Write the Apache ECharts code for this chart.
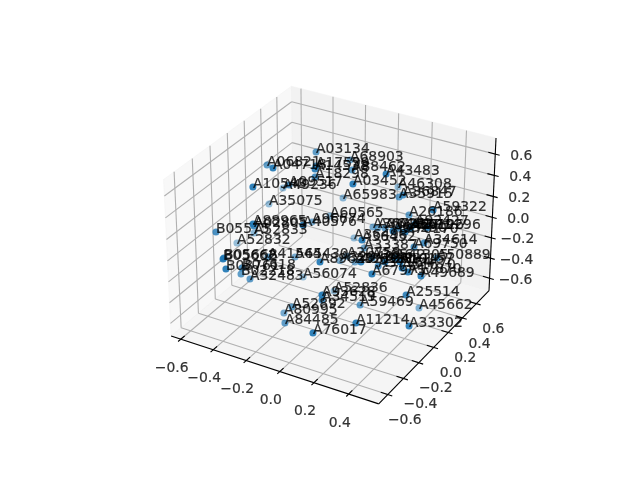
<!DOCTYPE html>
<html>
<head>
<meta charset="UTF-8">
<title>scatter</title>
<script src="https://cdn.jsdelivr.net/npm/echarts@6/dist/echarts.min.js"></script>
<style>
html,body{margin:0;background:#fff}
#main{width:640px;height:480px}
</style>
</head>
<body>
<div id="main"></div>
<script>
const xTicks = [-0.6, -0.4, -0.2, 0, 0.2, 0.4]
const yTicks = [-0.6, -0.4, -0.2, 0, 0.2, 0.4, 0.6]
const zTicks = [-0.6, -0.4, -0.2, 0, 0.2, 0.4, 0.6]
const xLim = [-0.66, 0.57]
const yLim = [-0.714, 0.786]
const zLim = [-0.725, 0.749]

const labels = ['A03134', 'A06821', 'A04718', 'A17599', 'A14538', 'A18298', 'A10543', 'A09517', 'A49236', 'A35075',
    'A88965', 'A02805', 'A52833', 'B05575', 'A52832', 'A40576', 'A96674', 'A60565', 'A65983', 'A03452',
    'A68903', 'A88462', 'A43483', 'A46308', 'A35915', 'A36847', 'A59322', 'A26186', 'A36498', 'A36452',
    'A36721', 'A31427', 'A63290', 'A19296', 'A92427', 'A76170', 'A34614', 'A33387', 'A69750', 'A50889',
    'A49689', 'A67975', 'A17870', 'A10157', 'A89620', 'A32196', 'A36981', 'A36542', 'A28814', 'A61305',
    'A56074', 'A32483', 'B05662', 'B05668', 'B08761', 'B07618', 'B02218', 'A41544', 'A65430', 'A52836',
    'A93628', 'A34519', 'A59469', 'A52892', 'A80995', 'A84485', 'A76017', 'A11214', 'A33302', 'A45662', 'A25514',
    'A36420', 'A38571', 'A60126', 'A32940', 'A20758', 'A37164', 'A51670']
const xValues = [-0.198, -0.399, -0.196, -0.114, -0.048, -0.104, -0.259, -0.208, -0.469, -0.512,
    -0.213, -0.310, -0.508, -0.469, -0.608, -0.030, -0.192, -0.183, -0.147, 0.166,
    -0.101, -0.015, 0.265, 0.060, 0.229, 0.304, 0.513, 0.296, -0.075, 0.274,
    0.090, 0.206, 0.366, 0.451, 0.423, 0.419, 0.457, 0.077, 0.418, 0.533,
    0.543, 0.359, 0.482, 0.435, 0.121, 0.054, 0.266, 0.248, 0.370, 0.408,
    -0.258, -0.329, -0.298, -0.366, -0.273, -0.309, -0.375, -0.277, -0.223, -0.097,
    0.171, 0.082, 0.194, -0.106, -0.200, -0.117, 0.179, 0.351, 0.554, 0.374, 0.473,
    0.120, 0.284, 0.449, -0.036, 0.006, 0.284, 0.447]
const yValues = [0.147, -0.042, -0.369, -0.028, -0.176, -0.061, -0.479, -0.162, 0.283, 0.192,
    -0.575, -0.380, -0.004, -0.513, -0.021, -0.360, 0.079, 0.289, 0.381, -0.169,
    0.370, 0.211, 0.027, 0.658, 0.285, 0.163, 0.075, 0.267, 0.372, -0.288,
    0.259, 0.157, -0.102, 0.149, 0.053, -0.068, 0.099, 0.173, 0.058, 0.099,
    -0.136, -0.347, -0.165, -0.162, -0.472, 0.106, -0.281, -0.101, -0.208, -0.167,
    0.098, -0.404, -0.757, -0.623, -0.775, -0.529, -0.419, -0.288, -0.071, 0.159,
    -0.553, -0.368, -0.130, -0.349, -0.260, -0.414, -0.679, -0.523, -0.304, 0.251, -0.163,
    0.259, 0.157, -0.068, 0.106, 0.106, -0.101, -0.162]
const zValues = [0.678, 0.585, 0.841, 0.689, 0.779, 0.612, 0.711, 0.556, 0.140, 0.022,
    0.458, 0.269, -0.133, 0.227, -0.265, 0.392, 0.064, -0.008, 0.123, 0.732,
    0.511, 0.550, 0.744, 0.147, 0.358, 0.486, 0.496, 0.230, -0.228, 0.348,
    0.028, 0.138, 0.351, 0.255, 0.341, 0.344, 0.150, -0.123, 0.122, 0.045,
    0.040, 0.115, 0.068, 0.137, 0.197, -0.224, 0.137, 0.045, 0.137, 0.165,
    -0.515, -0.225, 0.218, 0.105, 0.149, -0.025, -0.189, -0.068, -0.188, -0.618,
    -0.029, -0.249, -0.409, -0.424, -0.592, -0.537, -0.289, -0.221, -0.305, -0.618, -0.153,
    0.034, 0.170, 0.389, -0.253, -0.192, -0.013, 0.086]

/* same camera as a default 3d axes: elev 30, azim -60, dist 10 */
const deg = Math.PI / 180
const el = 30 * deg, az = -60 * deg, dist = 10
const k = 1.8294640721620434 * 25 / 24 / Math.sqrt(41)
const box = [4 * k, 4 * k, 3 * k]
const w = [Math.cos(el) * Math.cos(az), Math.cos(el) * Math.sin(az), Math.sin(el)]
const ul = Math.hypot(w[0], w[1])
const u = [-w[1] / ul, w[0] / ul, 0]
const v = [w[1] * u[2] - w[2] * u[1], w[2] * u[0] - w[0] * u[2], w[0] * u[1] - w[1] * u[0]]
const dot = (a, b) => a[0] * b[0] + a[1] * b[1] + a[2] * b[2]

function toBox(p) {
    return [
        ((p[0] - xLim[0]) / (xLim[1] - xLim[0]) - 0.5) * box[0],
        ((p[1] - yLim[0]) / (yLim[1] - yLim[0]) - 0.5) * box[1],
        ((p[2] - zLim[0]) / (zLim[1] - zLim[0]) - 0.5) * box[2]
    ]
}
function depth(p) { return dot(toBox(p), w) }
function project(p) {
    const b = toBox(p)
    const d = dist - dot(b, w)
    return [dot(b, u) / d, dot(b, v) / d]
}

const points = labels.map((name, i) => [xValues[i], yValues[i], zValues[i]])

function seg(a, b) { const p = project(a), q = project(b); return [p[0], p[1], q[0], q[1]] }
const gridSegs = [], axisSegs = [], tickSegs = []
const [x0, x1] = xLim, [y0, y1] = yLim, [z0, z1] = zLim
xTicks.forEach(x => {
    gridSegs.push(seg([x, y0, z0], [x, y1, z0]), seg([x, y1, z0], [x, y1, z1]))
    tickSegs.push(seg([x, y0 - 0.03, z0], [x, y0 + 0.045, z0]))
})
yTicks.forEach(y => {
    gridSegs.push(seg([x1, y, z0], [x0, y, z0]), seg([x0, y, z0], [x0, y, z1]))
    tickSegs.push(seg([x1 + 0.025, y, z0], [x1 - 0.04, y, z0]))
})
zTicks.forEach(z => {
    gridSegs.push(seg([x0, y0, z], [x0, y1, z]), seg([x0, y1, z], [x1, y1, z]))
    tickSegs.push(seg([x1 + 0.025, y1, z], [x1 - 0.04, y1, z]))
})
axisSegs.push(seg([x0, y0, z0], [x1, y0, z0]), seg([x1, y0, z0], [x1, y1, z0]), seg([x1, y1, z0], [x1, y1, z1]))

const panes = [
    { fill: 'rgba(242,242,242,0.5)', c: [[x0, y0, z0], [x0, y1, z0], [x0, y1, z1], [x0, y0, z1]] },
    { fill: 'rgba(230,230,230,0.5)', c: [[x0, y1, z0], [x1, y1, z0], [x1, y1, z1], [x0, y1, z1]] },
    { fill: 'rgba(236,236,236,0.5)', c: [[x0, y0, z0], [x1, y0, z0], [x1, y1, z0], [x0, y1, z0]] }
]

function segSeries(data, color, width, z) {
    return {
        type: 'custom',
        silent: true,
        z: z,
        data: data,
        encode: { x: [0, 2], y: [1, 3] },
        renderItem: function (params, api) {
            const a = api.coord([api.value(0), api.value(1)])
            const b = api.coord([api.value(2), api.value(3)])
            return {
                type: 'line',
                shape: { x1: a[0], y1: a[1], x2: b[0], y2: b[1] },
                style: { stroke: color, lineWidth: width, fill: null }
            }
        }
    }
}

function tickLabelSeries(ticks, at, offset) {
    return {
        type: 'scatter',
        symbolSize: 0,
        silent: true,
        z: 6,
        data: ticks.map(t => ({
            value: project(at(t)),
            label: {
                show: true,
                position: 'inside',
                offset: offset,
                formatter: t.toFixed(1).replace('-', '\u2212'),
                color: '#000',
                fontFamily: 'DejaVu Sans',
                fontSize: 13.9,
                textBorderColor: '#000',
                textBorderWidth: 0.2
            }
        }))
    }
}

// far points first, nearer ones darker
const order = points.map((p, i) => i).sort((a, b) => depth(points[a]) - depth(points[b]))

const option = {
    animation: false,
    backgroundColor: '#fff',
    grid: { left: 143.2, top: 57.6, width: 369.6, height: 369.6 },
    xAxis: { type: 'value', min: -0.095, max: 0.09, show: false },
    yAxis: { type: 'value', min: -0.095, max: 0.09, show: false },
    series: [
        {
            type: 'custom',
            silent: true,
            z: 1,
            data: panes.map((p, i) => [i]),
            renderItem: function (params, api) {
                const pane = panes[api.value(0)]
                return {
                    type: 'polygon',
                    shape: { points: pane.c.map(c => api.coord(project(c))) },
                    style: { fill: pane.fill, stroke: 'rgba(242,242,242,0.5)', lineWidth: 1 }
                }
            }
        },
        segSeries(gridSegs, '#b0b0b0', 1.1, 2),
        segSeries(axisSegs, '#000', 1.1, 3),
        segSeries(tickSegs, '#000', 1.1, 3),
        {
            type: 'scatter',
            symbolSize: 7,
            silent: true,
            z: 4,
            data: order.map(i => ({
                value: project(points[i]),
                itemStyle: {
                    color: '#1f77b4',
                    opacity: Math.min(0.92, Math.max(0.3, 0.3 + 0.7 * (depth(points[i]) + 0.5)))
                }
            }))
        },
        {
            type: 'scatter',
            symbolSize: 0,
            silent: true,
            z: 5,
            data: points.map((p, i) => ({
                value: project(p),
                label: {
                    show: true,
                    position: [0, 0],
                    align: 'left',
                    verticalAlign: 'bottom',
                    offset: [0, 4],
                    formatter: labels[i],
                    color: '#000',
                    fontFamily: 'DejaVu Sans',
                    fontSize: 13.9,
                    textBorderColor: '#000',
                    textBorderWidth: 0.2
                }
            }))
        },
        tickLabelSeries(xTicks, t => [t, y0, z0], [-9, 29]),
        tickLabelSeries(yTicks, t => [x1, t, z0], [17, 26]),
        tickLabelSeries(zTicks, t => [x1, y1, t], [26, 2])
    ]
}

let chart = echarts.init(document.getElementById('main'), null, { renderer: 'canvas' })
chart.setOption(option)
</script>
</body>
</html>
